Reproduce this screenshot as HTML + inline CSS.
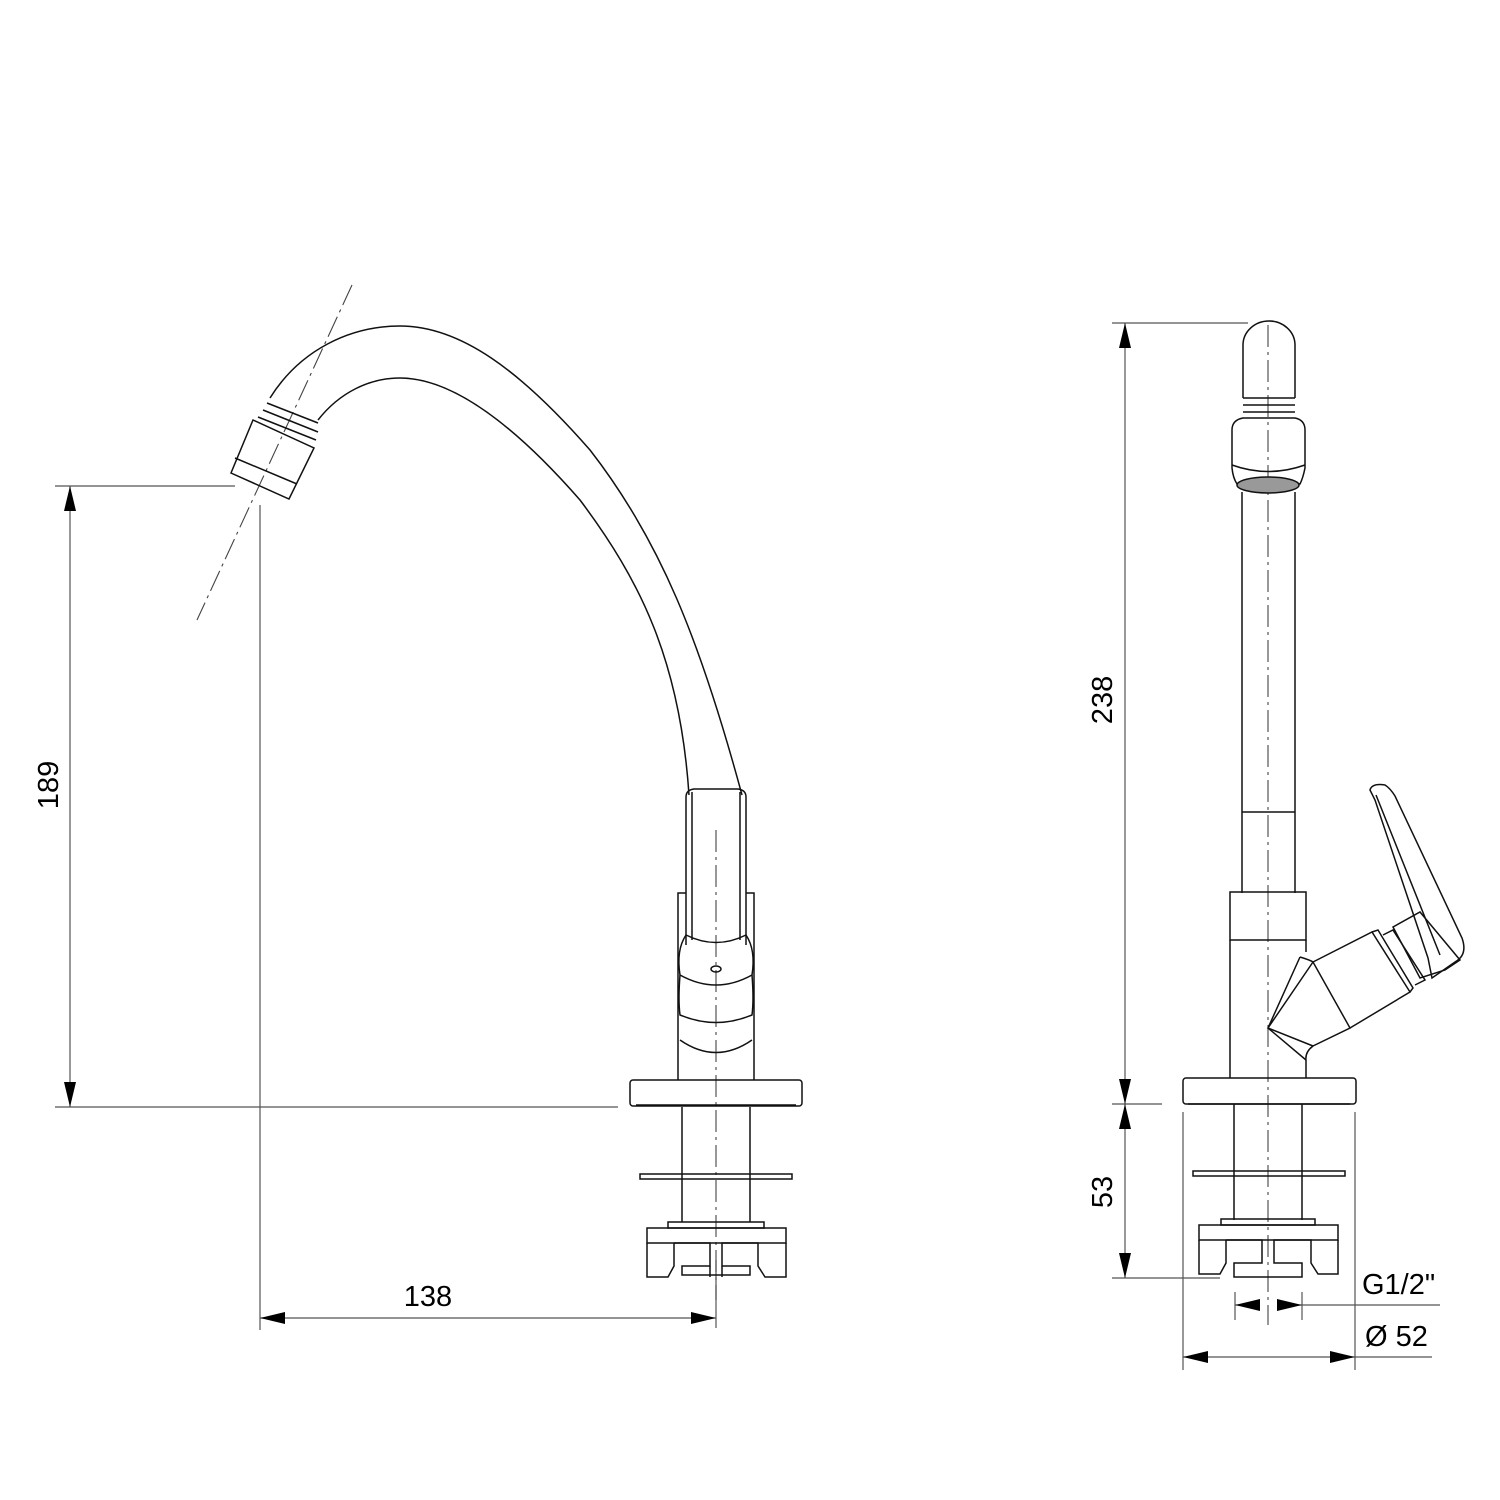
<!DOCTYPE html>
<html><head><meta charset="utf-8"><style>body{margin:0;background:#fff;overflow:hidden}svg{display:block}</style></head>
<body>
<svg width="1500" height="1500" viewBox="0 0 1500 1500" xmlns="http://www.w3.org/2000/svg">
<defs>
<marker id="a" viewBox="0 0 25 12" refX="25" refY="6" markerWidth="25" markerHeight="12" markerUnits="userSpaceOnUse" orient="auto-start-reverse"><path d="M0,0 L25,6 L0,12 Z" fill="#000"/></marker>
</defs>
<g fill="none" stroke="#555" stroke-width="1.2">
<line x1="55" y1="486" x2="235" y2="486"/>
<line x1="55" y1="1107" x2="618" y2="1107"/>
<line x1="70" y1="486" x2="70" y2="1107" marker-start="url(#a)" marker-end="url(#a)"/>
<line x1="260" y1="505" x2="260" y2="1330"/>
<line x1="716" y1="1260" x2="716" y2="1328"/>
<line x1="260" y1="1318" x2="716" y2="1318" marker-start="url(#a)" marker-end="url(#a)"/>
<line x1="1112" y1="323" x2="1248" y2="323"/>
<line x1="1112" y1="1104" x2="1162" y2="1104"/>
<line x1="1112" y1="1278" x2="1220" y2="1278"/>
<line x1="1125" y1="323" x2="1125" y2="1104" marker-start="url(#a)" marker-end="url(#a)"/>
<line x1="1125" y1="1104" x2="1125" y2="1278" marker-start="url(#a)" marker-end="url(#a)"/>
<line x1="1183" y1="1112" x2="1183" y2="1370"/>
<line x1="1355" y1="1112" x2="1355" y2="1370"/>
<line x1="1183" y1="1357" x2="1355" y2="1357" marker-start="url(#a)" marker-end="url(#a)"/>
<line x1="1355" y1="1357" x2="1432" y2="1357"/>
<line x1="1235" y1="1292" x2="1235" y2="1320"/>
<line x1="1302" y1="1292" x2="1302" y2="1320"/>
<line x1="1235" y1="1305" x2="1260" y2="1305" marker-start="url(#a)"/>
<line x1="1278" y1="1305" x2="1302" y2="1305" marker-end="url(#a)"/>
<line x1="1302" y1="1305" x2="1440" y2="1305"/>
</g>
<g fill="none" stroke="#444" stroke-width="1.1" stroke-dasharray="22,5,3,5">
<line x1="352" y1="285" x2="197" y2="620"/>
<line x1="716" y1="830" x2="716" y2="1300"/>
<line x1="1268" y1="325" x2="1268" y2="1325"/>
</g>
<g font-family="Liberation Sans, sans-serif" font-size="29" fill="#000">
<text x="428" y="1306" text-anchor="middle">138</text>
<text transform="translate(58,785) rotate(-90)" text-anchor="middle">189</text>
<text transform="translate(1112,700) rotate(-90)" text-anchor="middle">238</text>
<text transform="translate(1112,1192) rotate(-90)" text-anchor="middle">53</text>
<text x="1362" y="1294">G1/2"</text>
<text x="1365" y="1346">Ø 52</text>
</g>
<g fill="none" stroke="#111" stroke-width="1.5">
<path d="M270,398 C300,350 350,326 400,326 C460,326 520,370 590,450 C660,540 700,640 742,795"/>
<path d="M318,420 C340,392 370,378 400,378 C450,378 510,420 580,500 C640,580 680,660 689,795"/>
<path d="M253,420 L314,448 L289,499 L231,473 Z"/>
<line x1="235" y1="458" x2="297" y2="484"/>
<line x1="267" y1="403" x2="318" y2="423"/>
<line x1="263" y1="410" x2="318" y2="432"/>
<line x1="258" y1="417" x2="316" y2="440"/>
<path d="M686,945 L686,797 Q686,790 694,789 L738,789 Q746,790 746,797 L746,945"/>
<line x1="692" y1="792" x2="692" y2="940"/>
<line x1="740" y1="792" x2="740" y2="940"/>
<path d="M678,1080 L678,893 L686,893 M746,893 L754,893 L754,1080"/>
<path d="M686,935 Q716,950 746,935"/>
<path d="M686,935 Q676,950 680,975 Q716,995 752,975 Q756,950 746,935"/>
<path d="M680,975 Q678,1000 680,1015 Q716,1030 752,1015 Q754,1000 752,975"/>
<path d="M680,1040 Q716,1065 752,1040"/>
<ellipse cx="716" cy="969" rx="5" ry="3"/>
<rect x="630" y="1080" width="172" height="26" rx="3"/>
<line x1="636" y1="1105" x2="796" y2="1105"/>
<line x1="682" y1="1107" x2="682" y2="1222"/>
<line x1="750" y1="1107" x2="750" y2="1222"/>
<rect x="640" y="1174" width="152" height="5"/>
<rect x="668" y="1222" width="96" height="6"/>
<rect x="647" y="1228" width="139" height="15"/>
<path d="M647,1243 L647,1277 L668,1277 L674,1266 L674,1243 M674,1243 L710,1243 L710,1266 L682,1266 L682,1275 L750,1275 L750,1266 L722,1266 L722,1243 L758,1243 L758,1266 L765,1277 L786,1277 L786,1243"/>
<line x1="710" y1="1266" x2="710" y2="1277"/><line x1="722" y1="1266" x2="722" y2="1277"/>
<path d="M1243,398 L1243,345 A26,24 0 0 1 1295,345 L1295,398"/>
<line x1="1243" y1="398" x2="1295" y2="398"/>
<line x1="1243" y1="405" x2="1295" y2="405"/>
<line x1="1243" y1="412" x2="1295" y2="412"/>
<path d="M1243,418 L1295,418 Q1305,420 1305,430 L1305,468 Q1303,478 1300,484 L1237,484 Q1233,478 1232,468 L1232,430 Q1232,420 1243,418 Z"/>
<path d="M1232,465 Q1268,478 1305,465"/>
<ellipse cx="1268" cy="485" rx="31" ry="8" fill="#999"/>
<line x1="1242" y1="492" x2="1242" y2="893"/>
<line x1="1295" y1="492" x2="1295" y2="893"/>
<line x1="1242" y1="812" x2="1295" y2="812"/>
<rect x="1230" y="892" width="76" height="48"/>
<line x1="1230" y1="940" x2="1230" y2="1078"/>
<path d="M1306,940 L1306,952"/>
<path d="M1306,1060 L1306,1078"/>
<path d="M1300,957 Q1310,960 1313,962 L1350,1028 L1313,1046 Q1305,1052 1306,1060"/>
<path d="M1300,957 L1268,1028 L1306,1060 M1313,962 L1268,1028 L1313,1046"/>
<path d="M1313,962 L1372,932 L1410,992 L1350,1028"/>
<path d="M1372,932 L1378,930 L1413,988 L1410,992"/>
<path d="M1383,935 L1393,930 L1425,980 L1415,985"/>
<path d="M1393,927 L1420,912 L1460,960 L1445,970 L1420,978 Z"/>
<path d="M1370,790 Q1372,783 1385,785 Q1390,788 1395,796 L1462,938 Q1468,955 1455,962 L1432,978 L1428,958 L1375,800 Z"/>
<line x1="1376" y1="795" x2="1440" y2="955"/>
<rect x="1183" y="1078" width="173" height="26" rx="3"/>
<line x1="1188" y1="1104" x2="1350" y2="1104"/>
<line x1="1234" y1="1104" x2="1234" y2="1220"/>
<line x1="1302" y1="1104" x2="1302" y2="1220"/>
<rect x="1193" y="1171" width="152" height="5"/>
<rect x="1221" y="1219" width="94" height="6"/>
<rect x="1199" y="1225" width="139" height="15"/>
<path d="M1199,1240 L1199,1274 L1220,1274 L1226,1263 L1226,1240 M1226,1240 L1262,1240 L1262,1263 L1234,1263 L1234,1277 L1302,1277 L1302,1263 L1274,1263 L1274,1240 L1311,1240 L1311,1263 L1318,1274 L1338,1274 L1338,1240"/>
</g>
</svg>
</body></html>
